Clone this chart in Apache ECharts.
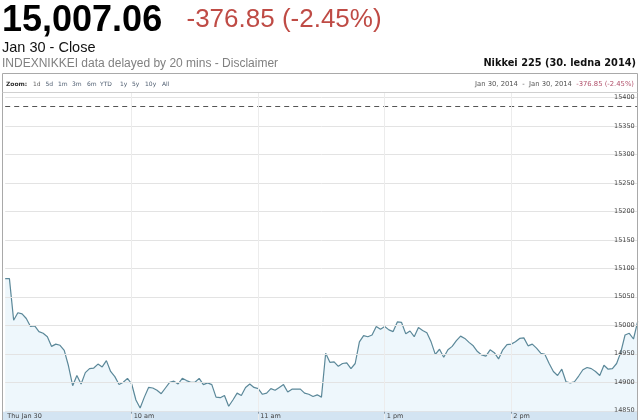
<!DOCTYPE html>
<html><head><meta charset="utf-8">
<script src="https://cdn.jsdelivr.net/npm/echarts@6/dist/echarts.min.js"></script>
<style>html,body{margin:0;padding:0;background:#fff}#c{width:640px;height:420px}</style>
</head><body><div id="c"></div>
<script>
// Nikkei 225, Jan 30 2014, 2-minute closes (morning 9:00-11:30, afternoon 12:32-15:00)
const morningValues = [
  15082,15082,15009,15022,15020,15012,14998,14999,14989,14986,
  14980,14963,14967,14965,14956,14929,14894,14912,14897,14917,
  14924,14925,14932,14927,14938,14919,14910,14896,14900,14907,
  14897,14869,14855,14874,14891,14890,14886,14880,14890,14900,
  14902,14897,14907,14903,14900,14900,14907,14896,14899,14896,
  14874,14873,14877,14858,14869,14881,14877,14891,14897,14891,
  14889,14879,14881,14889,14886,14891,14896,14883,14888,14888,
  14888,14881,14879,14875,14878,14874
];
const afternoonValues = [
  14951,14935,14936,14928,14933,14934,14924,14933,14971,14982,
  14980,14983,14998,14993,14998,14992,14989,15006,15005,14985,
  14990,14980,14996,14991,14987,14971,14949,14958,14944,14957,
  14963,14973,14981,14977,14970,14964,14954,14948,14946,14957,
  14952,14941,14957,14966,14967,14971,14977,14978,14964,14967,
  14960,14951,14949,14933,14919,14912,14923,14901,14899,14901,
  14911,14922,14926,14924,14919,14912,14930,14923,14924,14933,
  14953,14983,14986,14976,15007.06
];
const previousClose = 15383.91;
const lastPrice = "15,007.06";
const changeText = "-376.85 (-2.45%)";
const xTickLabels = {"9:00":"Thu Jan 30","10:00":"10 am","11:00":"11 am","13:00":"1 pm","14:00":"2 pm"};
const yMin = 14800, yMax = 15409, yInterval = 50;
const zoomLinks = ["1d","5d","1m","3m","6m","YTD","1y","5y","10y","All"];

function hhmm(m){return Math.floor(m/60)+":"+String(m%60).padStart(2,"0");}
const times = [];
for (let m = 540; m <= 690; m += 2) times.push(hhmm(m));
for (let m = 752; m <= 900; m += 2) times.push(hhmm(m));
const values = morningValues.concat(afternoonValues);

const F = 'DejaVu Sans';
const linkX = [33,45.5,58,72,87,100,120,132,145,162];
const graphics = [
  {type:'text', x:2, y:21.5, style:{text:lastPrice, font:'bold 36px "Liberation Sans"', fill:'#000', verticalAlign:'middle'}},
  {type:'text', x:186.5, y:20, style:{text:changeText, font:'26px "Liberation Sans"', fill:'#bf4b45', verticalAlign:'middle'}},
  {type:'text', x:2, y:48, style:{text:'Jan 30 - Close', font:'14.5px "Liberation Sans"', fill:'#111', verticalAlign:'middle'}},
  {type:'text', x:2, y:64, style:{text:'INDEXNIKKEI data delayed by 20 mins - Disclaimer', font:'12px "Liberation Sans"', fill:'#808080', verticalAlign:'middle'}},
  {type:'text', x:636, y:63.5, style:{text:'Nikkei 225 (30. ledna 2014)', font:'bold 9.8px "DejaVu Sans"', fill:'#111', align:'right', verticalAlign:'middle'}},
  {type:'rect', shape:{x:2.5,y:73.5,width:635,height:360}, style:{fill:'none', stroke:'#a9a9a9', lineWidth:1}, z:30},
  {type:'line', shape:{x1:2.5,y1:92.5,x2:637.5,y2:92.5}, style:{stroke:'#d0d0d0', lineWidth:1}, z:30},
  {type:'rect', shape:{x:3,y:411.7,width:634,height:9}, style:{fill:'#d3e4f2'}, z:10},
  {type:'text', x:6, y:84.7, style:{text:'Zoom:', font:'bold 6px "DejaVu Sans"', fill:'#333', verticalAlign:'middle'}, z:31},
  {type:'text', x:634, y:84.7, style:{text:'{a|Jan 30, 2014  -  Jan 30, 2014  }{b|' + changeText + '}', align:'right', verticalAlign:'middle',
     rich:{a:{font:'6.8px "DejaVu Sans"', fill:'#555'}, b:{font:'6.8px "DejaVu Sans"', fill:'#b0506a'}}}, z:31}
];
zoomLinks.forEach((t,i)=>{
  graphics.push({type:'text', x:linkX[i], y:84.7, style:{text:t, font:'6px "DejaVu Sans"', fill:i===0?'#666':'#4e5d70', verticalAlign:'middle'}, z:31});
});

const chart = echarts.init(document.getElementById('c'), null, {renderer:'canvas'});
chart.setOption({
  animation:false,
  backgroundColor:'#fff',
  grid:{left:5.2, right:2.3, top:92.2, height:347.1, containLabel:false, outerBoundsMode:'none'},
  xAxis:{
    type:'category', data:times, boundaryGap:false, offset:-27.6, z:20,
    axisLine:{show:false},
    axisTick:{show:true, interval:(i,v)=> (v in xTickLabels) && v!=='9:00', length:2, lineStyle:{color:'#8a9aa8'}},
    axisLabel:{interval:(i,v)=> v in xTickLabels, formatter:v=> xTickLabels[v] || '', align:'left', margin:1.5,
      fontSize:6.5, fontFamily:F, color:'#444', padding:[0,0,0,2]},
    splitLine:{show:true, interval:(i,v)=> (v in xTickLabels) && v!=='9:00', lineStyle:{color:'#ececec', width:1}}
  },
  yAxis:{
    type:'value', position:'right', min:yMin, max:yMax, interval:yInterval, z:3,
    axisLine:{show:true, lineStyle:{color:'#a9a9a9'}}, axisTick:{show:false},
    axisLabel:{inside:true, margin:3, fontSize:6.5, fontFamily:F, color:'#444',
      formatter:v=> (v % yInterval === 0 && v < yMax) ? String(v) : '', verticalAlign:'middle', padding:[0,0,5,0]},
    splitLine:{show:true, lineStyle:{color:'#e3e3e3', width:1}}
  },
  series:[{
    type:'line', data:values, symbol:'none', showSymbol:false, z:2,
    lineStyle:{color:'#5b8899', width:1.2},
    areaStyle:{color:'rgba(173,216,240,0.3)', origin:'start'},
    markLine:{silent:true, symbol:['none','none'], label:{show:false},
      lineStyle:{color:'#555', type:[5,4], width:1}, data:[{yAxis:previousClose}]}
  }],
  graphic:graphics
});
</script></body></html>
